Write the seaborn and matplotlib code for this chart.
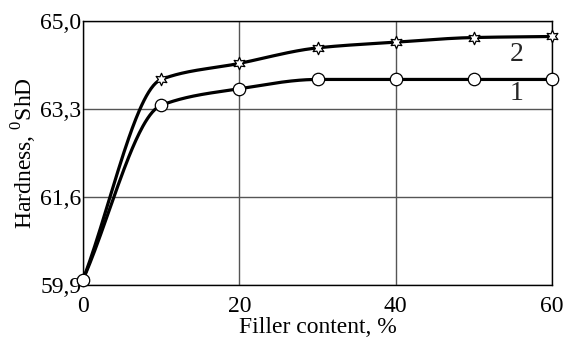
import numpy as np
import pandas as pd
import matplotlib
matplotlib.use("Agg")
import matplotlib.pyplot as plt
import seaborn as sns

filler = [0, 10, 20, 30, 40, 50, 60]
hardness_1 = [60.0, 63.37, 63.69, 63.87, 63.87, 63.87, 63.87]
hardness_2 = [60.0, 63.87, 64.18, 64.48, 64.59, 64.68, 64.70]
y_ticks = [59.9, 61.6, 63.3, 65.0]
y_tick_labels = ["59,9", "61,6", "63,3", "65,0"]
x_ticks = [0, 20, 40, 60]
curve_labels = ["1", "2"]

sns.set_theme(style="white")
plt.rcParams["font.family"] = ["Liberation Serif", "DejaVu Serif"]
plt.rcParams["mathtext.fontset"] = "custom"
plt.rcParams["mathtext.rm"] = "Liberation Serif"


def smooth_curve(x, y, xs):
    x = np.asarray(x, float); y = np.asarray(y, float)
    h = np.diff(x); d = np.diff(y) / h
    m = np.zeros_like(y)
    for k in range(1, len(x) - 1):
        if d[k - 1] * d[k] > 0:
            w1 = 2 * h[k] + h[k - 1]; w2 = h[k] + 2 * h[k - 1]
            m[k] = (w1 + w2) / (w1 / d[k - 1] + w2 / d[k])
    m[0] = d[0]
    m[-1] = d[-1] if d[-1] * m[-2] >= 0 else 0
    idx = np.clip(np.searchsorted(x, xs) - 1, 0, len(x) - 2)
    t = (xs - x[idx]) / h[idx]
    h00 = 2 * t**3 - 3 * t**2 + 1; h10 = t**3 - 2 * t**2 + t
    h01 = -2 * t**3 + 3 * t**2; h11 = t**3 - t**2
    return h00 * y[idx] + h10 * h[idx] * m[idx] + h01 * y[idx + 1] + h11 * h[idx] * m[idx + 1]


fig = plt.figure(figsize=(5.64, 3.38), dpi=100)
ax = fig.add_axes([0.147, 0.157, 0.832, 0.781])

xs = np.linspace(0, 60, 400)
for ys in (hardness_1, hardness_2):
    smooth = pd.DataFrame({"x": xs, "y": smooth_curve(filler, ys, xs)})
    sns.lineplot(data=smooth, x="x", y="y", ax=ax, color="black", lw=2.3, zorder=3)

df1 = pd.DataFrame({"x": filler, "y": hardness_1})
df2 = pd.DataFrame({"x": filler, "y": hardness_2})
sns.scatterplot(data=df2, x="x", y="y", ax=ax, marker=(6, 1, 0), s=80,
                facecolor="white", edgecolor="black", linewidth=0.9, zorder=5, clip_on=False)
sns.scatterplot(data=df1, x="x", y="y", ax=ax, marker="o", s=80,
                facecolor="white", edgecolor="black", linewidth=0.9, zorder=6, clip_on=False)

ax.set_xlim(0, 60)
ax.set_ylim(59.9, 65.0)
ax.set_xticks(x_ticks)
ax.set_xticklabels([str(v) for v in x_ticks])
ax.set_yticks(y_ticks)
ax.set_yticklabels(y_tick_labels)
ax.tick_params(axis="both", length=0, labelsize=17, colors="black")
ax.tick_params(axis="x", pad=8)
ax.tick_params(axis="y", pad=1)
ax.grid(True, color="#555555", lw=1.0)
for s in ax.spines.values():
    s.set_color("black"); s.set_linewidth(1.0)

ax.set_xlabel("Filler content, %", fontsize=17, labelpad=0, color="black")
ax.set_ylabel("Hardness, $^{0}$ShD", fontsize=17, labelpad=1, color="black")

ax.text(55.5, 64.36, curve_labels[1], fontsize=20, ha="center", va="center")
ax.text(55.5, 63.6, curve_labels[0], fontsize=20, ha="center", va="center")

fig.savefig("out.png", dpi=100)
